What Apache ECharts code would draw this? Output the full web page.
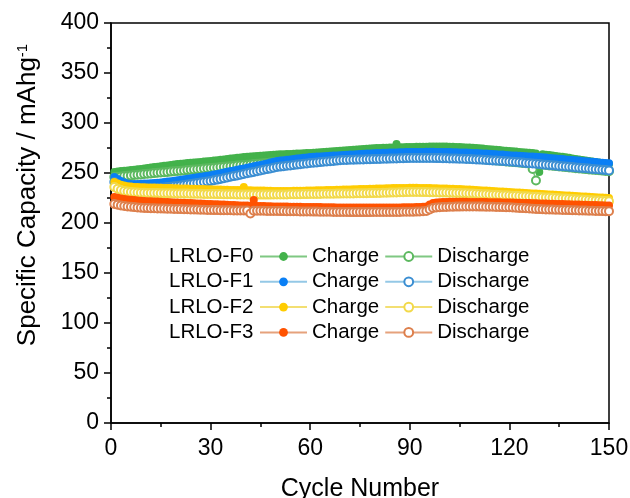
<!DOCTYPE html>
<html lang="en">
<head>
    <meta charset="UTF-8">
    <title>Cycle performance</title>
    <script src="https://cdn.jsdelivr.net/npm/echarts@6/dist/echarts.min.js"></script>
</head>
<body style="margin:0">
    <div id="main" style="width: 630px;height: 498px"></div>
    <script>
        // 每个样品 150 圈的充/放电比容量 (mAh/g)
        var samples = ['LRLO-F0', 'LRLO-F1', 'LRLO-F2', 'LRLO-F3'];
        var xTicks = [0, 30, 60, 90, 120, 150];
        var yTicks = [0, 50, 100, 150, 200, 250, 300, 350, 400];

        var f0Charge = [
            251, 251.5, 252, 252.3, 252.6, 253, 253.3, 253.7, 254, 254.5,
            255, 255.4, 255.9, 256.3, 256.8, 257.2, 257.6, 258, 258.5, 259,
            259.3, 259.6, 259.9, 260.2, 260.5, 260.8, 261.1, 261.4, 261.7, 262,
            262.4, 262.8, 263.2, 263.6, 264, 264.4, 264.8, 265.2, 265.6, 266,
            266.3, 266.5, 266.8, 267, 267.3, 267.5, 267.8, 268, 268.3, 268.5,
            268.7, 268.8, 269, 269.1, 269.3, 269.4, 269.6, 269.7, 269.9, 270,
            270.3, 270.5, 270.8, 271, 271.3, 271.5, 271.8, 272, 272.3, 272.5,
            272.8, 273, 273.3, 273.5, 273.8, 274, 274.3, 274.5, 274.8, 275,
            275.1, 275.2, 275.3, 275.4, 275.5, 279, 275.7, 275.8, 275.9, 276,
            276.1, 276.2, 276.2, 276.3, 276.3, 276.4, 276.4, 276.5, 276.5, 276.5,
            276.4, 276.3, 276.2, 276.1, 276, 275.8, 275.6, 275.4, 275.2, 275,
            274.7, 274.4, 274.1, 273.8, 273.5, 273.2, 272.9, 272.6, 272.3, 272,
            271.7, 271.4, 271.1, 270.8, 270.5, 270.2, 269.9, 269.6, 251, 268.7,
            268.3, 267.9, 267.5, 267.1, 266.6, 266.2, 265.7, 265.2, 264.6, 264,
            263.5, 263, 262.5, 262, 261.5, 261, 260.5, 260, 259.5, 259
        ];
        var f0Discharge = [
            246, 246.3, 246.6, 247, 247.3, 247.6, 248, 248.3, 248.6, 249,
            249.3, 249.6, 249.9, 250.2, 250.5, 250.8, 251.1, 251.4, 251.7, 252,
            252.3, 252.6, 252.9, 253.2, 253.5, 253.8, 254.1, 254.4, 254.7, 255,
            255.3, 255.6, 255.9, 256.2, 256.5, 256.8, 257.1, 257.4, 257.7, 258,
            258.3, 258.6, 258.9, 259.2, 259.5, 259.8, 260.1, 260.4, 260.7, 261,
            261.2, 261.4, 261.6, 261.8, 262, 262.2, 262.4, 262.6, 262.8, 263,
            263.2, 263.4, 263.6, 263.8, 264, 264.2, 264.4, 264.6, 264.8, 265,
            265.1, 265.2, 265.3, 265.4, 265.5, 265.6, 265.7, 265.8, 265.9, 266,
            266, 266, 266.1, 266.1, 266.1, 266.2, 266.2, 266.2, 266.2, 266.2,
            266.2, 266.2, 266.2, 266.1, 266.1, 266.1, 266, 266, 266, 265.9,
            265.8, 265.7, 265.6, 265.4, 265.2, 265, 264.8, 264.6, 264.4, 264.2,
            264, 263.7, 263.4, 263.1, 262.8, 262.5, 262.2, 261.9, 261.6, 261.3,
            261, 260.7, 260.4, 260.1, 259.8, 259.5, 254, 242.5, 258.6, 258.3,
            258, 257.6, 257.3, 256.9, 256.6, 256.2, 255.9, 255.5, 255.2, 254.8,
            254.5, 254.2, 253.9, 253.6, 253.3, 253, 252.7, 252.4, 252.1, 251.8
        ];
        var f1Charge = [
            246, 244, 242, 240.5, 239.5, 239, 239, 239, 239.2, 239.4,
            239.6, 239.8, 240, 240.3, 240.6, 241, 241.4, 241.8, 242.2, 242.7,
            243.2, 243.7, 244.2, 244.7, 245.2, 245.7, 246.2, 246.7, 247.2, 247.7,
            248.4, 249.1, 249.8, 250.5, 251.2, 251.9, 252.6, 253.3, 254, 254.6,
            255.3, 256, 256.7, 257.4, 258.1, 258.8, 259.6, 260.4, 261.2, 262,
            262.4, 262.8, 263.2, 263.6, 264, 264.4, 264.8, 265.2, 265.6, 266,
            266.2, 266.4, 266.6, 266.8, 267, 267.2, 267.4, 267.6, 267.8, 268,
            268.2, 268.4, 268.6, 268.8, 269, 269.2, 269.4, 269.6, 269.8, 270,
            270.1, 270.2, 270.3, 270.4, 270.5, 270.6, 270.7, 270.8, 270.9, 271,
            271, 271.1, 271.1, 271.1, 271.2, 271.2, 271.2, 271.1, 271.1, 271,
            271, 270.9, 270.8, 270.7, 270.6, 270.5, 270.4, 270.2, 270.1, 270,
            269.8, 269.6, 269.4, 269.2, 269, 268.8, 268.6, 268.4, 268.1, 267.8,
            267.6, 267.4, 267.2, 267, 266.8, 266.6, 266.4, 266.2, 266, 265.7,
            265.4, 265.1, 264.8, 264.5, 264.2, 263.9, 263.6, 263.3, 263, 262.7,
            262.4, 262.1, 261.8, 261.5, 261.2, 260.9, 260.6, 260.3, 260, 259.7
        ];
        var f1Discharge = [
            241, 238.5, 236, 234.5, 234, 233.7, 233.5, 233.5, 233.6, 233.8,
            234, 234.3, 234.6, 235, 235.3, 235.6, 236, 236.3, 236.7, 237,
            237.5, 238, 238.5, 239, 239.5, 240, 240.5, 241, 241.5, 242,
            242.7, 243.4, 244.1, 244.8, 245.5, 246.2, 246.9, 247.6, 248.3, 249,
            249.7, 250.4, 251.1, 251.8, 252.5, 253.2, 253.9, 254.6, 255.3, 256,
            256.4, 256.8, 257.2, 257.6, 258, 258.4, 258.8, 259.2, 259.6, 260,
            260.3, 260.6, 260.9, 261.2, 261.5, 261.8, 262.1, 262.4, 262.7, 263,
            263.1, 263.2, 263.3, 263.4, 263.5, 263.6, 263.7, 263.8, 263.9, 264,
            264.1, 264.2, 264.3, 264.4, 264.5, 264.6, 264.7, 264.8, 264.9, 265,
            265, 265, 265, 265, 265, 265, 265, 264.9, 264.9, 264.8,
            264.7, 264.6, 264.5, 264.4, 264.3, 264.2, 264.1, 264, 263.8, 263.6,
            263.4, 263.2, 263, 262.8, 262.6, 262.4, 262.2, 262, 261.8, 261.6,
            261.3, 261, 260.7, 260.4, 260.1, 259.8, 259.5, 259.2, 258.9, 258.6,
            258.3, 258, 257.7, 257.4, 257.1, 256.8, 256.5, 256.2, 255.9, 255.6,
            255.3, 255, 254.7, 254.4, 254.1, 253.8, 253.5, 253.2, 252.9, 252.6
        ];
        var f2Charge = [
            241, 239.5, 238.3, 237.4, 236.8, 236.4, 236.1, 235.9, 235.8, 235.7,
            235.6, 235.5, 235.4, 235.3, 235.2, 235.1, 235, 234.9, 234.8, 234.7,
            234.6, 234.5, 234.4, 234.3, 234.2, 234.1, 234, 233.9, 233.8, 233.7,
            233.6, 233.5, 233.4, 233.3, 233.2, 233.1, 233, 233, 232.9, 236,
            232.8, 232.7, 232.6, 232.6, 232.5, 232.4, 232.3, 232.2, 232.1, 232,
            232, 232, 232.1, 232.1, 232.2, 232.2, 232.3, 232.3, 232.4, 232.5,
            232.6, 232.7, 232.8, 232.8, 232.9, 233, 233.1, 233.2, 233.3, 233.4,
            233.5, 233.6, 233.7, 233.8, 233.9, 234, 234.1, 234.2, 234.3, 234.4,
            234.5, 234.6, 234.7, 234.8, 234.9, 235, 235, 235.1, 235.1, 235.2,
            235.2, 235.2, 235.1, 235.1, 235, 234.9, 234.8, 234.7, 234.6, 234.5,
            234.4, 234.3, 234.2, 234, 233.9, 233.7, 233.6, 233.4, 233.2, 233,
            232.8, 232.6, 232.4, 232.2, 232, 231.8, 231.6, 231.4, 231.2, 231,
            230.8, 230.6, 230.4, 230.2, 230, 229.8, 229.6, 229.4, 229.2, 229,
            228.8, 228.6, 228.4, 228.2, 228, 227.8, 227.6, 227.4, 227.2, 227,
            226.8, 226.6, 226.4, 226.2, 226, 225.8, 225.6, 225.4, 225.2, 225
        ];
        var f2Discharge = [
            236, 234.3, 233, 232, 231.4, 231, 230.7, 230.5, 230.3, 230.2,
            230.1, 230, 229.9, 229.9, 229.8, 229.8, 229.7, 229.7, 229.6, 229.5,
            229.5, 229.4, 229.4, 229.3, 229.3, 229.2, 229.2, 229.1, 229.1, 229,
            229, 228.9, 228.9, 228.8, 228.8, 228.7, 228.7, 228.6, 228.6, 228.5,
            228.5, 228.4, 228.4, 228.4, 228.4, 228.4, 228.4, 228.4, 228.5, 228.5,
            228.5, 228.6, 228.6, 228.7, 228.7, 228.8, 228.8, 228.9, 228.9, 229,
            229, 229.1, 229.1, 229.2, 229.2, 229.3, 229.3, 229.4, 229.4, 229.5,
            229.5, 229.6, 229.6, 229.7, 229.7, 229.8, 229.8, 229.9, 229.9, 230,
            230.1, 230.2, 230.3, 230.4, 230.5, 230.6, 230.7, 230.8, 230.9, 231,
            231, 231, 231, 230.9, 230.9, 230.8, 230.8, 230.7, 230.6, 230.5,
            230.4, 230.3, 230.2, 230.1, 230, 229.8, 229.7, 229.5, 229.4, 229.2,
            229, 228.8, 228.7, 228.5, 228.3, 228.2, 228, 227.8, 227.7, 227.5,
            227.3, 227.2, 227, 226.8, 226.7, 226.5, 226.3, 226.2, 226, 225.8,
            225.6, 225.4, 225.2, 225, 224.8, 224.6, 224.4, 224.2, 224, 223.8,
            223.6, 223.4, 223.2, 223, 222.8, 222.6, 222.4, 222.2, 222, 221.8
        ];
        var f3Charge = [
            226, 225.2, 224.5, 224, 223.5, 223.2, 222.9, 222.6, 222.3, 222,
            221.8, 221.7, 221.5, 221.4, 221.2, 221.1, 220.9, 220.8, 220.6, 220.5,
            220.3, 220.2, 220, 219.9, 219.7, 219.6, 219.4, 219.3, 219.1, 219,
            218.8, 218.7, 218.5, 218.4, 218.2, 218.1, 217.9, 217.8, 217.6, 217.5,
            217.4, 217.3, 223, 217.1, 217, 216.9, 216.8, 216.7, 216.6, 216.5,
            216.5, 216.4, 216.4, 216.3, 216.3, 216.2, 216.2, 216.1, 216.1, 216,
            216, 215.9, 215.9, 215.8, 215.8, 215.7, 215.7, 215.6, 215.6, 215.5,
            215.5, 215.4, 215.4, 215.4, 215.4, 215.4, 215.4, 215.4, 215.5, 215.5,
            215.5, 215.5, 215.5, 215.6, 215.6, 215.6, 215.6, 215.7, 215.7, 215.8,
            215.8, 215.9, 216, 216.2, 216.5, 218.5, 220, 220.5, 220.8, 221,
            221.1, 221.2, 221.2, 221.2, 221.2, 221.2, 221.2, 221.1, 221.1, 221,
            221, 220.9, 220.9, 220.8, 220.8, 220.7, 220.7, 220.6, 220.6, 220.5,
            220.4, 220.3, 220.2, 220.1, 220, 219.9, 219.8, 219.7, 219.6, 219.5,
            219.4, 219.3, 219.2, 219.1, 219, 218.9, 218.8, 218.7, 218.6, 218.5,
            218.4, 218.3, 218.2, 218.1, 218, 217.9, 217.8, 217.7, 217.6, 217.5
        ];
        var f3Discharge = [
            219, 218.2, 217.5, 217, 216.5, 216.2, 215.9, 215.6, 215.3, 215,
            214.9, 214.8, 214.7, 214.6, 214.5, 214.4, 214.3, 214.2, 214.1, 214,
            213.9, 213.8, 213.7, 213.6, 213.5, 213.4, 213.3, 213.2, 213.1, 213,
            212.9, 212.9, 212.8, 212.8, 212.7, 212.7, 212.6, 212.6, 212.5, 212.5,
            212.4, 209.5, 212.3, 212.3, 212.2, 212.2, 212.1, 212.1, 212, 212,
            211.9, 211.9, 211.8, 211.8, 211.7, 211.7, 211.6, 211.6, 211.5, 211.5,
            211.4, 211.4, 211.3, 211.3, 211.2, 211.2, 211.1, 211.1, 211, 211,
            211, 210.9, 210.9, 210.9, 210.9, 210.9, 210.9, 210.9, 211, 211,
            211, 211, 211, 211.1, 211.1, 211.1, 211.1, 211.2, 211.2, 211.3,
            211.3, 211.4, 211.5, 211.7, 212, 213.5, 215, 215.5, 215.8, 216,
            216.1, 216.2, 216.3, 216.4, 216.4, 216.5, 216.5, 216.5, 216.5, 216.5,
            216.4, 216.4, 216.3, 216.3, 216.2, 216.1, 216, 215.9, 215.8, 215.7,
            215.5, 215.3, 215.1, 214.9, 214.7, 214.5, 214.3, 214.1, 213.9, 213.7,
            213.6, 213.5, 213.4, 213.3, 213.2, 213.1, 213, 212.9, 212.8, 212.7,
            212.6, 212.5, 212.4, 212.3, 212.2, 212.1, 212, 211.9, 211.8, 211.7
        ];

        var chargeData = [f0Charge, f1Charge, f2Charge, f3Charge];
        var dischargeData = [f0Discharge, f1Discharge, f2Discharge, f3Discharge];
        // 颜色: 实心点 / 空心点边框 / 连线
        var dotColors = ['#43b24b', '#0a7ff5', '#ffcc00', '#ff5200'];
        var ringColors = ['#5cb85f', '#3b8ed2', '#f2d94a', '#dd7f4c'];
        var lineColors = ['#7fc882', '#94c8e6', '#f3df72', '#e6a27c'];

        var font = 'Liberation Sans, Arial, sans-serif';

        function toPoints(arr) {
            // 第 i 个值对应第 i+1 圈
            return arr.map(function (v, i) { return [i + 1, v]; });
        }

        var series = [];
        var legends = [];
        var graphics = [];
        samples.forEach(function (s, k) {
            series.push({
                name: s + ' Charge', type: 'line', data: toPoints(chargeData[k]),
                symbol: 'circle', symbolSize: 8, showSymbol: true,
                itemStyle: { color: dotColors[k] },
                lineStyle: { color: lineColors[k], width: 1.5 }
            });
            series.push({
                name: s + ' Discharge', type: 'line', data: toPoints(dischargeData[k]),
                symbol: 'emptyCircle', symbolSize: 8, showSymbol: true,
                itemStyle: { color: ringColors[k], borderWidth: 1 },
                lineStyle: { color: lineColors[k], width: 1.5 }
            });
            legends.push({
                data: [s + ' Charge', s + ' Discharge'],
                left: 254, top: 241 + k * 25.3,
                orient: 'horizontal',
                itemWidth: 47, itemHeight: 11, itemGap: 5,
                selectedMode: false,
                formatter: function (name) { return name.split(' ')[1]; },
                textStyle: { fontFamily: font, fontSize: 20.5, color: '#000' }
            });
            graphics.push({
                type: 'text', left: 169, top: 246 + k * 25.3,
                style: { text: s, font: '20.5px ' + font, fill: '#000' }
            });
        });

        var mCharts = echarts.init(document.getElementById('main'));
        var option = {
            animation: false,
            backgroundColor: '#fff',
            grid: {
                left: 111, right: 21, top: 23, bottom: 75,
                outerBoundsMode: 'none', containLabel: false,
                show: true, borderColor: '#000', borderWidth: 1.5
            },
            xAxis: {
                type: 'value', min: xTicks[0], max: xTicks[xTicks.length - 1], interval: 30,
                name: 'Cycle Number', nameLocation: 'middle', nameGap: 54,
                nameTextStyle: { fontFamily: font, fontSize: 25, color: '#000' },
                axisLine: { lineStyle: { color: '#000', width: 1.5 } },
                axisTick: { inside: false, length: 7, lineStyle: { color: '#000', width: 1.5 } },
                minorTick: { show: true, splitNumber: 2, length: 4, lineStyle: { color: '#000', width: 1.5 } },
                axisLabel: { fontFamily: font, fontSize: 23, color: '#000', margin: 14 },
                splitLine: { show: false }
            },
            yAxis: {
                type: 'value', min: yTicks[0], max: yTicks[yTicks.length - 1], interval: 50,
                name: '{a|Specific Capacity / mAhg}{b|-1}', nameLocation: 'middle', nameGap: 70,
                nameTextStyle: {
                    fontFamily: font, fontSize: 26, color: '#000', padding: [0, 0, 0, 56],
                    rich: {
                        a: { fontFamily: font, fontSize: 26, color: '#000' },
                        b: { fontFamily: font, fontSize: 15, color: '#000', verticalAlign: 'top', padding: [0, 0, 11, 0] }
                    }
                },
                axisLine: { lineStyle: { color: '#000', width: 1.5 } },
                axisTick: { inside: false, length: 7, lineStyle: { color: '#000', width: 1.5 } },
                minorTick: { show: true, splitNumber: 2, length: 4, lineStyle: { color: '#000', width: 1.5 } },
                axisLabel: { fontFamily: font, fontSize: 23, color: '#000', margin: 12 },
                splitLine: { show: false }
            },
            legend: legends,
            graphic: graphics,
            series: series
        };
        mCharts.setOption(option);
    </script>
</body>
</html>
